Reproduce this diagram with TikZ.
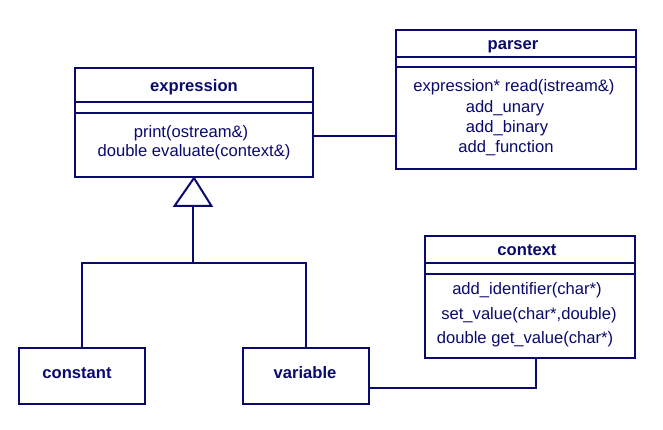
\documentclass[tikz,border=0pt]{standalone}
\usepackage{fontspec}
\setmainfont{Liberation Sans}
\definecolor{navy}{HTML}{0A0A6E}
\begin{document}
\begin{tikzpicture}[x=1pt,y=-1pt,
  line width=2pt, draw=navy,
  cls/.style={draw=navy, line width=2pt, rectangle, inner sep=0pt, anchor=north west},
  ttl/.style={text=navy, font=\fontsize{16.6}{18}\selectfont\bfseries, anchor=base, inner sep=0pt},
  op/.style={text=navy, font=\fontsize{16.6}{18}\selectfont, anchor=base, inner sep=0pt},
  link/.style={draw=navy, line width=2pt}]
\useasboundingbox[fill=white] (0,0) rectangle (663,430);

% expression
\node[cls, minimum width=238pt, minimum height=109pt] (expr) at (74,67) {};
\draw[link] (74,102) -- (312,102);
\draw[link] (74,113) -- (312,113);
\node[ttl] (exprT) at (194,92) {expression};
\node[op] (exprO1) at (191,137.5) {print(ostream\&)};
\node[op] (exprO2) at (194,157) {double evaluate(context\&)};

% parser
\node[cls, minimum width=240pt, minimum height=139pt] (parser) at (395,29) {};
\draw[link] (395,57) -- (635,57);
\draw[link] (395,67) -- (635,67);
\node[ttl] (parT) at (513,49.5) {parser};
\node[op] (parO1) at (514,92) {expression* read(istream\&)};
\node[op] (parO2) at (505,112.7) {add\_unary};
\node[op] (parO3) at (507,132.7) {add\_binary};
\node[op] (parO4) at (506,152.7) {add\_function};

% context
\node[cls, minimum width=210pt, minimum height=122pt] (ctx) at (424,235) {};
\draw[link] (424,263) -- (634,263);
\draw[link] (424,274) -- (634,274);
\node[ttl] (ctxT) at (527,255) {context};
\node[op] (ctxO1) at (527,294.3) {add\_identifier(char*)};
\node[op] (ctxO2) at (529,319) {set\_value(char*,double)};
\node[op] (ctxO3) at (525,343.7) {double get\_value(char*)};

% constant, variable
\node[cls, minimum width=126pt, minimum height=56pt] (const) at (18,347) {};
\node[ttl] (constT) at (77,378) {constant};
\node[cls, minimum width=126pt, minimum height=56pt] (var) at (242,347) {};
\node[ttl] (varT) at (305,378) {variable};

% association expression - parser
\coordinate (a1) at (350,136);
\draw[link] (expr.east |- a1) -- (parser.west |- a1);

% generalization
\coordinate (tri) at (193,206);
\coordinate (bus) at (193,263);
\draw[link, line join=miter] (expr.south) -- ([xshift=-18.5pt]tri) -- ([xshift=18.5pt]tri) -- cycle;
\draw[link] (tri) -- (bus);
\draw[link] (const.north) |- (bus) -| (var.north);

% association variable - context
\coordinate (a2) at (536,388);
\draw[link] (var.east |- a2) -- (a2) -- (ctx.south -| a2);
\end{tikzpicture}
\end{document}
